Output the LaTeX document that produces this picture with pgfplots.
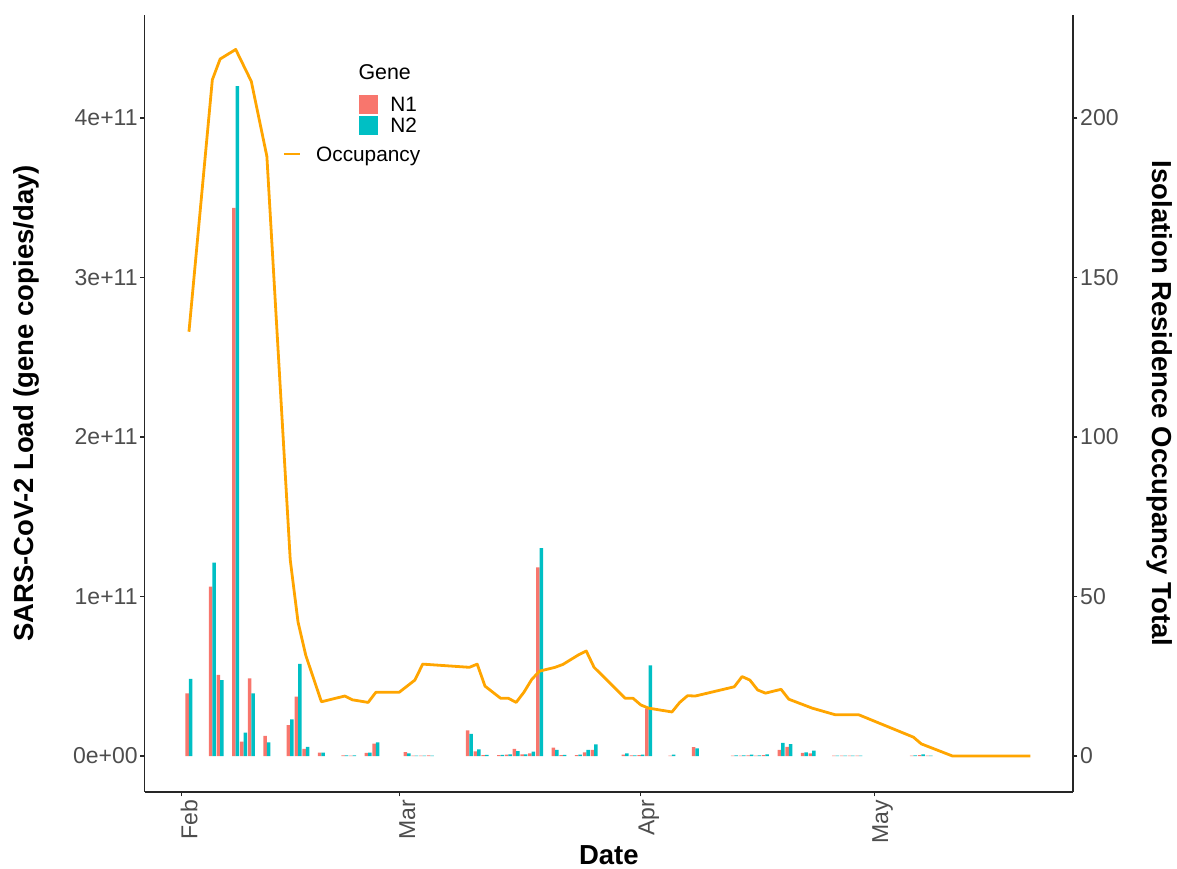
\documentclass[border=0pt]{standalone}
\usepackage{pgfplots}
\pgfplotsset{compat=1.18}
\usepackage{pgfplotstable}
\usepackage{fontspec}
\setmainfont{Liberation Sans}
\definecolor{cN1}{HTML}{F8766D}
\definecolor{cN2}{HTML}{00BFC4}
\definecolor{cOcc}{HTML}{FFA500}
\definecolor{tickgray}{HTML}{4D4D4D}

% d = days since 1 Feb; loads in gene copies/day
\pgfplotstableread{
d N1 N2
1 0.393e11 0.483e11
4 1.062e11 1.212e11
5 0.508e11 0.476e11
7 3.436e11 4.200e11
8 0.090e11 0.146e11
9 0.487e11 0.393e11
11 0.127e11 0.086e11
14 0.194e11 0.230e11
15 0.372e11 0.577e11
16 0.044e11 0.058e11
18 0.021e11 0.021e11
21 0.004e11 0.004e11
22 0.003e11 0.004e11
24 0.019e11 0.021e11
25 0.077e11 0.086e11
29 0.025e11 0.017e11
30 0.003e11 0.003e11
31 0.003e11 0.003e11
32 0.004e11 0.003e11
37 0.161e11 0.138e11
38 0.029e11 0.042e11
39 0.006e11 0.007e11
41 0.006e11 0.007e11
42 0.008e11 0.010e11
43 0.044e11 0.031e11
44 0.010e11 0.010e11
45 0.017e11 0.027e11
46 1.183e11 1.304e11
48 0.052e11 0.038e11
49 0.005e11 0.007e11
51 0.005e11 0.008e11
52 0.023e11 0.038e11
53 0.038e11 0.073e11
57 0.008e11 0.017e11
58 0.004e11 0.004e11
59 0.006e11 0.008e11
60 0.299e11 0.569e11
63 0.003e11 0.008e11
66 0.056e11 0.048e11
71 0.003e11 0.004e11
72 0.003e11 0.004e11
73 0.004e11 0.008e11
74 0.003e11 0.004e11
75 0.005e11 0.010e11
77 0.038e11 0.082e11
78 0.058e11 0.075e11
80 0.019e11 0.023e11
81 0.017e11 0.033e11
84 0.003e11 0.003e11
85 0.003e11 0.003e11
86 0.003e11 0.003e11
87 0.003e11 0.003e11
94 0.003e11 0.004e11
95 0.006e11 0.010e11
96 0.003e11 0.003e11
}\loaddata

\pgfplotstableread{
d occ
1 133
4 212
5 218.5
7 221.5
9 211.5
11 188
14 61.5
15 42
16 31.5
18 17
21 18.8
22 17.6
24 16.8
25 20
28 20
30 23.8
31 28.8
37 27.8
38 28.8
39 21.9
41 18.1
42 18.1
43 16.8
44 20
45 24
46 26.6
48 27.8
49 28.7
51 31.7
52 32.9
53 27.8
57 18.1
58 18.1
59 16
60 15
63 13.8
64 16.8
65 18.9
66 18.8
71 21.7
72 24.9
73 23.8
74 20.7
75 19.7
77 20.9
78 17.8
81 15
84 12.9
87 12.9
94 5.9
95 3.8
99 0
109 0
}\occdata

\begin{document}
\begin{tikzpicture}
\useasboundingbox (-72.4pt,-38pt) rectangle (516.1pt,396pt);
\pgfplotsset{
  common/.style={
    width=464.1pt, height=388.5pt, scale only axis,
    at={(0,0)}, anchor=south west,
    xmin=-4.67, xmax=114.48,
    axis line style={-, line width=0.6pt, black!85},
    tick style={line width=0.6pt, black!85},
    major tick length=2.2pt, tick align=outside,
    tick label style={font=\fontsize{11.5}{13}\selectfont, text=tickgray},
    label style={font=\fontsize{13.75}{16}\selectfont\bfseries},
  }
}
\begin{axis}[common,
  axis x line*=bottom, axis y line*=left,
  ymin=-0.2257e11, ymax=4.646e11,
  xtick={0,28,59,89}, xticklabels={Feb,Mar,Apr,May},
  xticklabel style={xshift=4pt, rotate=90, anchor=east, inner xsep=1.5pt},
  ytick={0,1e11,2e11,3e11,4e11},
  yticklabels={0e+00,1e+11,2e+11,3e+11,4e+11},
  yticklabel style={inner xsep=1.2pt},
  xlabel={Date},
  ylabel={SARS-CoV-2 Load (gene copies/day)},
  xlabel style={at={(axis description cs:0.5,-0.081)}, anchor=center},
  ylabel style={at={(axis description cs:-0.128,0.5)}, anchor=center},
  ybar=0pt, bar width=0.45,
  legend cell align=left,
  legend style={at={(axis description cs:0.2308,0.8983)}, anchor=north west,
    draw=none, fill=none, inner sep=0pt, column sep=0pt, row sep=0pt,
    font=\fontsize{10.4}{12}\selectfont,
    nodes={inner xsep=6.25pt, inner ysep=1.025pt, text height=7.6pt, text depth=0.6pt}},
]
\addplot[fill=cN1, draw=none,
  legend image code/.code={\fill[cN1] (0pt,-4.75pt) rectangle (9.25pt,4.75pt);}]
  table[x=d, y=N1] {\loaddata};
\addlegendentry{N1}
\addplot[fill=cN2, draw=none,
  legend image code/.code={\fill[cN2] (0pt,-4.75pt) rectangle (9.25pt,4.75pt);}]
  table[x=d, y=N2] {\loaddata};
\addlegendentry{N2}
\node[anchor=west, inner sep=0pt, font=\fontsize{10.7}{12}\selectfont] at (axis description cs:0.2298,0.9266) {Gene};
\end{axis}
\begin{axis}[common,
  axis x line=none, axis y line*=right,
  ymin=-11.29, ymax=232.3,
  ytick={0,50,100,150,200}, yticklabels={0,50,100,150,200},
  yticklabel style={inner xsep=1.2pt},
  ylabel={Isolation Residence Occupancy Total},
  ylabel style={at={(axis description cs:1.0937,0.5)}, anchor=center, rotate=180},
  legend style={at={(axis description cs:0.1478,0.8211)}, anchor=west,
    draw=none, fill=none, inner sep=0pt, column sep=0pt,
    font=\fontsize{10.4}{12}\selectfont,
    nodes={inner xsep=7.5pt, inner ysep=1pt, text height=7.4pt, text depth=0pt}},
]
\addplot[cOcc, line width=1.4pt, line join=round, mark=none,
  legend image code/.code={\draw[cOcc, line width=1.4pt] (0pt,0pt) -- (8pt,0pt);}]
  table[x=d, y=occ] {\occdata};
\addlegendentry{Occupancy}
\end{axis}
\end{tikzpicture}
\end{document}
